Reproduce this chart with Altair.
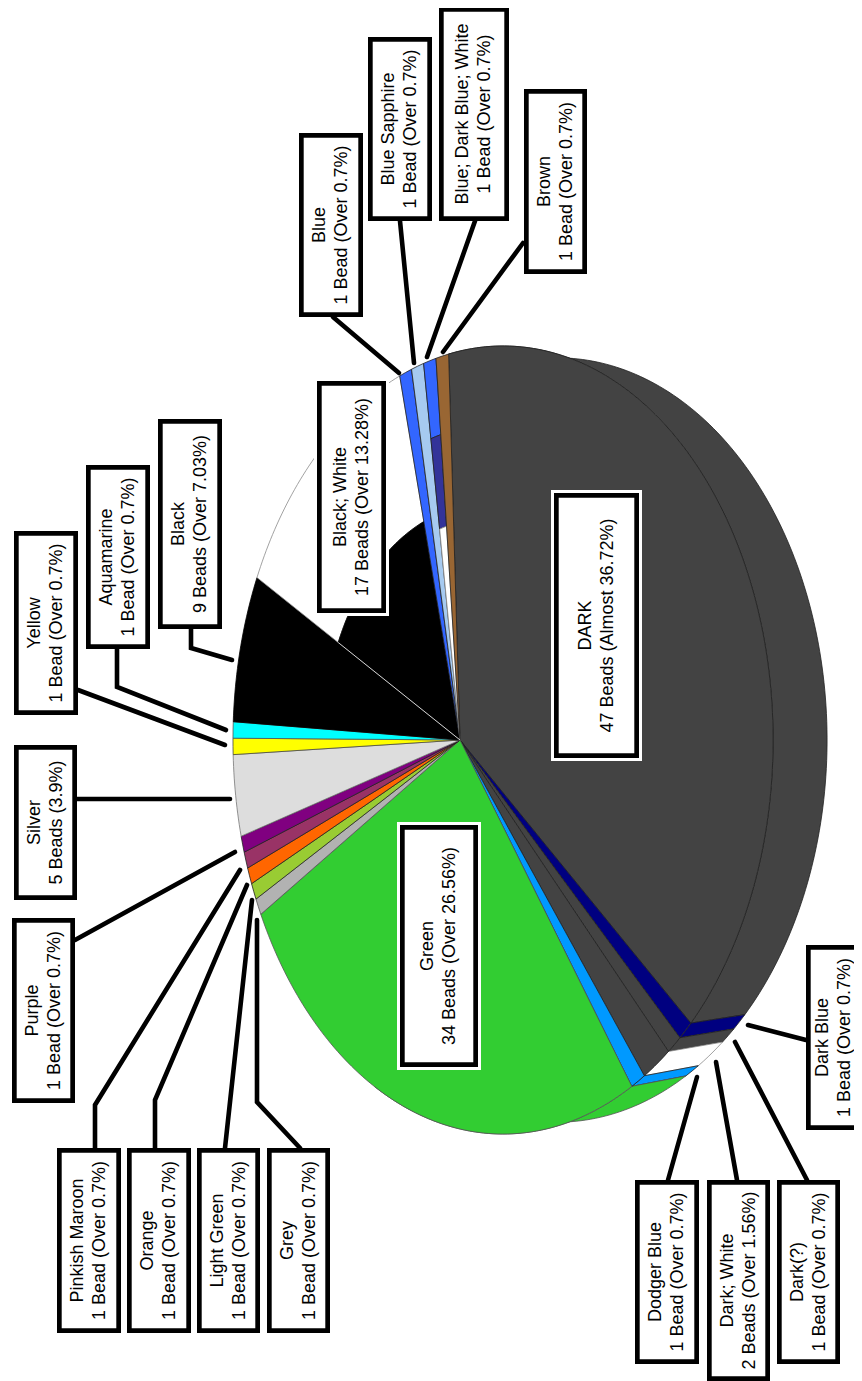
import math
import altair as alt
import pandas as pd

# ---- chart values ----
slices = ["DARK", "Dark Blue", "Dark(?)", "Dark; White", "Dodger Blue", "Green", "Grey", "Light Green",
          "Orange", "Pinkish Maroon", "Purple", "Silver", "Yellow", "Aquamarine", "Black", "Black; White",
          "Blue", "Blue Sapphire", "Blue; Dark Blue; White", "Brown"]
beads = [47, 1, 1, 2, 1, 34, 1, 1, 1, 1, 1, 5, 1, 1, 9, 17, 1, 1, 1, 1]
share_text = ["Almost 36.72%", "Over 0.7%", "Over 0.7%", "Over 1.56%", "Over 0.7%", "Over 26.56%", "Over 0.7%",
              "Over 0.7%", "Over 0.7%", "Over 0.7%", "Over 0.7%", "3.9%", "Over 0.7%", "Over 0.7%", "Over 7.03%",
              "Over 13.28%", "Over 0.7%", "Over 0.7%", "Over 0.7%", "Over 0.7%"]
top_colors = ["#434343", "#000080", "#434343", "#434343", "#0099FF", "#32CD32", "#B2B2B2", "#99CC33",
              "#FF6600", "#993366", "#800080", "#DDDDDD", "#FFFF00", "#00FFFF", "#000000", "#FFFFFF",
              "#3366FF", "#A6CAF0", "#3366FF", "#996633"]
wall_colors = {"DARK": "#434343", "Dark Blue": "#000080", "Dark(?)": "#434343", "Dark; White": "#FFFFFF",
               "Dodger Blue": "#0099FF", "Green": "#32CD32"}
# slices whose top face is striped from the hub outwards: (outer fraction, colour)
stripes = {"Black; White": [(1.0, "#FFFFFF"), (0.6, "#000000")],
           "Blue; Dark Blue; White": [(1.0, "#3366FF"), (0.8, "#333399"), (0.56, "#FFFFFF")]}

# ---- layout of the tilted pie (pixels of the picture) ----
W, H = 846, 1373
CX, CY = 460, 740
A, B, K = 263.2, 389.0, 0.1593   # perspective of the top face
START = -92.5
DEPTH_X, DEPTH_Y = 54, 0.97
WALL_LIMIT = 110


def rim(theta, frac=1.0):
    c, s = math.cos(math.radians(theta)), math.sin(math.radians(theta))
    d = 1 - K * c
    return A * c / d * frac, B * s / d * frac


def arc(t1, t2, frac=1.0):
    n = max(2, int(abs(t2 - t1) / 1.0) + 1)
    return [rim(t1 + (t2 - t1) * i / (n - 1), frac) for i in range(n)]


edge_colors = {"#FFFFFF": "#8a8a8a", "#32CD32": "#555555", "#DDDDDD": "#777777", "#000000": "#000000",
               "#00FFFF": "#555555", "#FFFF00": "#444444", "#B2B2B2": "#555555"}

rows_wall, rows_top = [], []
theta = START
seam = None
total = sum(beads)
for name, n_beads, top in zip(slices, beads, top_colors):
    t1, t2 = theta, theta + 360 * n_beads / total
    theta = t2
    if name in wall_colors:
        e = min(t2, WALL_LIMIT)
        pts = arc(t1, e)
        pts = pts + [(x + DEPTH_X, y * DEPTH_Y) for x, y in reversed(pts)]
        pts.append(pts[0])
        col = wall_colors[name]
        for i, (x, y) in enumerate(pts):
            rows_wall.append({"k": name, "i": i, "x": CX + x, "y": CY + y, "f": col,
                              "s": edge_colors.get(col, "#222222")})
    bands = stripes.get(name, [(1.0, top)])
    for b, (fr, col) in enumerate(bands):
        inner = bands[b + 1][0] if b + 1 < len(bands) else 0.0
        pts = arc(t1, t2, fr)
        pts = pts + ([(0.0, 0.0)] if inner == 0 else list(reversed(arc(t1, t2, inner))))
        pts.append(pts[0])
        for i, (x, y) in enumerate(pts):
            rows_top.append({"k": f"{name}-{b}", "i": i, "x": CX + x, "y": CY + y, "f": col,
                             "s": edge_colors.get(col, "#222222")})
    if name == "Black":
        sx, sy = rim(t2, 0.6)
        seam = [{"i": 0, "x": CX, "y": CY}, {"i": 1, "x": CX + sx, "y": CY + sy}]

# label boxes: slice -> x1, x2, y1, y2
boxes = {
    "Blue": (299, 363, 133, 317), "Blue Sapphire": (368, 432, 37, 221),
    "Blue; Dark Blue; White": (439, 509, 7, 221), "Brown": (524, 587, 89, 274),
    "Black; White": (317, 386, 381, 613), "Black": (158, 222, 419, 629),
    "Aquamarine": (86, 150, 465, 649), "Yellow": (14, 78, 531, 715),
    "Silver": (14, 77, 745, 900), "Purple": (12, 75, 918, 1103),
    "Pinkish Maroon": (57, 121, 1148, 1333), "Orange": (127, 191, 1148, 1333),
    "Light Green": (197, 260, 1148, 1333), "Grey": (267, 330, 1148, 1333),
    "Dodger Blue": (635, 699, 1180, 1364), "Dark; White": (707, 770, 1180, 1381),
    "Dark(?)": (777, 840, 1180, 1364), "Dark Blue": (806, 870, 945, 1130),
    "Green": (400, 478, 825, 1067), "DARK": (554, 639, 493, 758),
}
halo_boxes = ["DARK", "Green", "Black; White"]
text_nudge = {"Dark Blue": -4}   # keeps the second line inside the page
leaders = {
    "Blue": [(333, 317), (399, 373)], "Blue Sapphire": [(400, 221), (414, 363)],
    "Blue; Dark Blue; White": [(475, 221), (427, 357)], "Brown": [(523, 243), (443, 352)],
    "Black": [(191, 629), (191, 648), (232, 660)], "Aquamarine": [(117, 649), (117, 687), (226, 730)],
    "Yellow": [(78, 690), (225, 745)], "Silver": [(77, 799), (230, 799)],
    "Purple": [(75, 940), (235, 852)], "Pinkish Maroon": [(95, 1148), (95, 1105), (240, 870)],
    "Orange": [(155, 1148), (155, 1100), (247, 885)], "Light Green": [(225, 1148), (252, 900)],
    "Grey": [(300, 1148), (257, 1102), (257, 920)], "Dodger Blue": [(668, 1180), (697, 1077)],
    "Dark; White": [(737, 1180), (716, 1062)], "Dark(?)": [(807, 1180), (735, 1042)],
    "Dark Blue": [(806, 1040), (748, 1025)],
}
FRAME = 4.7

box_rows, text_rows, halo_rows, inner_rows = [], [], [], []
for name, n_beads, share in zip(slices, beads, share_text):
    x1, x2, y1, y2 = boxes[name]
    box_rows.append({"x": x1, "x2": x2, "y": y1, "y2": y2})
    inner_rows.append({"x": x1 + FRAME, "x2": x2 - FRAME, "y": y1 + FRAME, "y2": y2 - FRAME})
    if name in halo_boxes:
        halo_rows.append({"x": x1 - 3, "x2": x2 + 3, "y": y1 - 3, "y2": y2 + 3})
    cx, cy = (x1 + x2) / 2 + text_nudge.get(name, 0), (y1 + y2) / 2
    word = "Bead" if n_beads == 1 else "Beads"
    text_rows.append({"x": cx - 6, "y": cy, "t": name})
    text_rows.append({"x": cx + 16, "y": cy, "t": f"{n_beads} {word} ({share})"})
leader_rows = [{"k": k, "i": i, "x": p[0], "y": p[1]} for k, v in leaders.items() for i, p in enumerate(v)]

X = alt.X("x:Q", axis=None, scale=alt.Scale(domain=[8, 8 + W], range=[0, W]))
Y = alt.Y("y:Q", axis=None, scale=alt.Scale(domain=[8, 8 + H], range=[0, H]))


def polygons(rows):
    return alt.Chart(pd.DataFrame(rows)).mark_line(strokeWidth=0.8, interpolate="linear-closed").encode(
        x=X, y=Y, detail="k:N", order="i:Q",
        fill=alt.Fill("f:N", scale=None), stroke=alt.Stroke("s:N", scale=None))


def rects(rows, color):
    return alt.Chart(pd.DataFrame(rows)).mark_rect(color=color).encode(x=X, x2="x2:Q", y=Y, y2="y2:Q")


leader = alt.Chart(pd.DataFrame(leader_rows)).mark_line(color="black", strokeWidth=4.6, strokeCap="round").encode(
    x=X, y=Y, detail="k:N", order="i:Q")
seam_line = alt.Chart(pd.DataFrame(seam)).mark_line(color="#eeeeee", strokeWidth=0.9).encode(x=X, y=Y, order="i:Q")
labels = alt.Chart(pd.DataFrame(text_rows)).mark_text(
    angle=270, align="center", baseline="alphabetic", font="Liberation Sans", fontSize=18, color="black"
).encode(x=X, y=Y, text="t:N")

chart = alt.layer(
    polygons(rows_wall), polygons(rows_top), seam_line, leader,
    rects(halo_rows, "white"), rects(box_rows, "black"), rects(inner_rows, "white"), labels
).properties(width=W, height=H, padding=0, autosize=alt.AutoSizeParams(type="none"), background="white"
).configure_view(stroke=None)

chart.save("out.html", embed_options={"renderer": "svg", "actions": False})
